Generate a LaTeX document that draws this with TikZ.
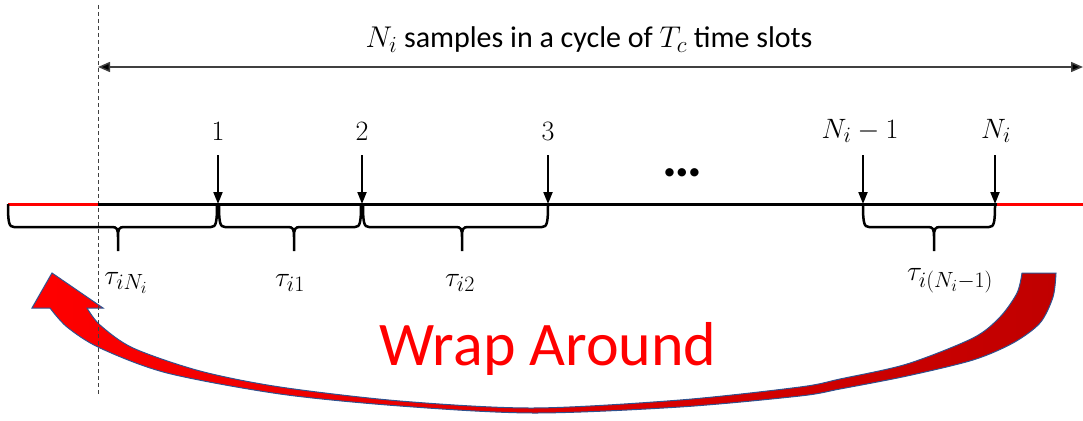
\documentclass[tikz,border=0pt]{standalone}
\usepackage{fix-cm}
\usepackage{fontspec}
\setmainfont{Carlito}
\DeclareMathSizes{28}{28}{22}{17}
\DeclareMathSizes{30}{30}{23}{18}
\usetikzlibrary{arrows.meta}
\definecolor{dkred}{RGB}{192,0,0}
\definecolor{outl}{RGB}{47,82,143}
\definecolor{dgray}{RGB}{64,64,64}
\newcommand\tbrace[3]{%
  \draw[bracestyle] (#1,204) .. controls (#1,223) and (#1+1,227) .. (#1+6,227)
    -- (#3-6,227) .. controls (#3-1,227) and (#3,229) .. (#3,237) -- (#3,251)
    (#3,237) .. controls (#3,229) and (#3+1,227) .. (#3+6,227)
    -- (#2-6,227) .. controls (#2-1,227) and (#2,223) .. (#2,204);}
\begin{document}
\begin{tikzpicture}[x=1pt,y=-1pt,
  lab/.style={inner sep=0pt,font=\fontsize{28}{34}\selectfont},
  toparrow/.style={line width=1.5pt,draw=dgray,{Triangle[length=12pt,width=10pt,fill=black]}-{Triangle[length=12pt,width=10pt,fill=black]}},
  tickarrow/.style={line width=2pt,-{Triangle[length=12pt,width=9pt]}},
  bracestyle/.style={line width=2.5pt,line join=round},
  wrapstyle/.style={draw=outl,line width=1pt,left color=red,middle color=red,right color=dkred}]
\useasboundingbox (0,0) rectangle (1083,420);
% wrap-around arrow
\path[wrapstyle] (52,273) -- (32,308) -- (50,308)
  -- plot[smooth] coordinates {(50,308) (67,327) (100,348) (167,373) (280,394) (400,406) (533,413) (680,407) (800,396) (840,389) (907,376) (973,360) (1013,343) (1040,323) (1053,297) (1056,273)}
  -- (1022,273)
  -- plot[smooth] coordinates {(1022,273) (1017,293) (1000,317) (973,338) (907,364) (840,379) (800,387) (680,400) (533,408) (400,401) (280,387) (200,371) (133,348) (100,325) (87,308)}
  -- (103,308) -- cycle;
\node[lab,text=red,font=\fontsize{62}{70}\selectfont] (wrap) at (548,349) {Wrap Around};
% dashed line
\coordinate (dtop) at (98,5);
\coordinate (dbot) at (98,395);
\draw[dgray,line width=1pt,dash pattern=on 4pt off 3pt] (dtop) -- (dbot);
% top arrow
\coordinate (tl) at (98,67);
\coordinate (tr) at (1083,67);
\draw[toparrow] (tl) -- (tr);
\node[lab,font=\fontsize{30}{36}\selectfont] (title) at (589,40) {$N_i$ samples in a cycle of $T_c$ time slots};
% timeline
\coordinate (a0) at (8,204);
\coordinate (a1) at (98,204);
\coordinate (a2) at (997,204);
\coordinate (a3) at (1083,204);
\draw[red,line width=3pt] (a0) -- (a1);
\draw[black,line width=3pt] (a1) -- (a2);
\draw[red,line width=3pt] (a2) -- (a3);
% tick arrows
\foreach \n/\x in {1/218,2/362,3/548,4/863,5/995}{
  \coordinate (s\n) at (\x,155);
  \coordinate (p\n) at (\x,204);
  \draw[tickarrow] (s\n) -- (p\n);
}
\node[lab] (l1) at (218,131) {$1$};
\node[lab] (l2) at (362,131) {$2$};
\node[lab] (l3) at (548,131) {$3$};
\node[lab] (l4) at (860,131) {$N_i-1$};
\node[lab] (l5) at (996,131) {$N_i$};
\node[lab,font=\fontsize{56}{56}\selectfont\bfseries] (dots) at (682,173) {…};
% braces
\tbrace{8}{217}{118}
\tbrace{219}{361}{294}
\tbrace{363}{548}{462}
\tbrace{863}{995}{934}
\node[lab] (t0) at (126,283) {$\tau_{iN_i}$};
\node[lab] (t1) at (290,283) {$\tau_{i1}$};
\node[lab] (t2) at (460,283) {$\tau_{i2}$};
\node[lab] (t4) at (950,281) {$\tau_{i(N_i-1)}$};
\end{tikzpicture}
\end{document}
